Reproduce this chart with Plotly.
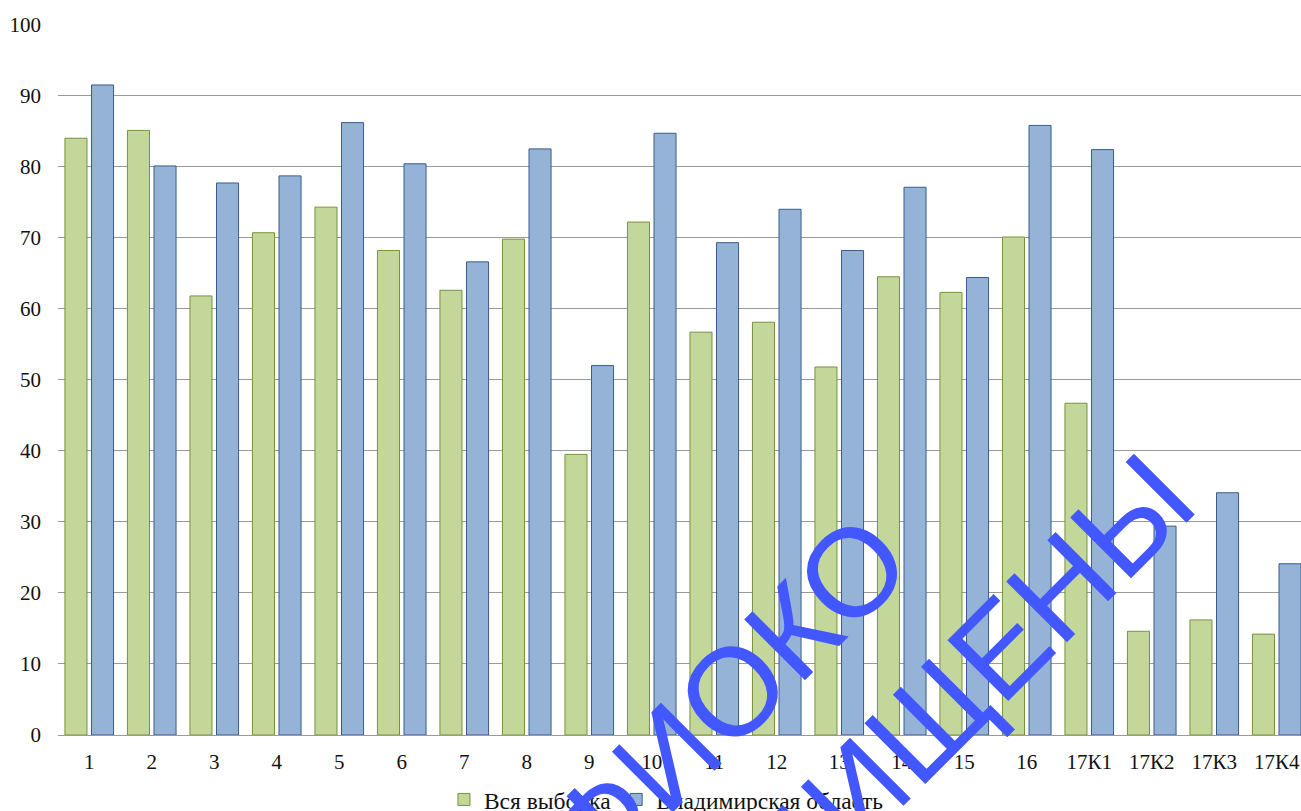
import plotly.graph_objects as go

categories = ["1", "2", "3", "4", "5", "6", "7", "8", "9", "10", "11", "12", "13", "14", "15", "16",
              "17К1", "17К2", "17К3", "17К4"]
all_sample = [84.0, 85.1, 61.8, 70.7, 74.3, 68.2, 62.6, 69.8, 39.5, 72.2, 56.7, 58.1, 51.8, 64.5,
              62.3, 70.1, 46.7, 14.6, 16.2, 14.2]
vladimir = [91.5, 80.1, 77.7, 78.7, 86.2, 80.4, 66.6, 82.5, 52.0, 84.7, 69.3, 74.0, 68.2, 77.1,
            64.4, 85.8, 82.4, 29.4, 34.1, 24.1]
series_names = ["Вся выборка", "Владимирская область"]
y_ticks = [0, 10, 20, 30, 40, 50, 60, 70, 80, 90, 100]
watermark_lines = ["ФИОКО", "ЗАЩИЩЕНЫ"]

W, H = 1301, 811
ML, MR, MT, MB = 58, 0, 24, 76
PW, PH = W - ML - MR, H - MT - MB
Y_TOP = 100.08


def px_to_paper(px, py):
    return (px - ML) / PW, (H - MB - py) / PH


serif = "Liberation Serif, Times New Roman, serif"

fig = go.Figure()
fig.add_trace(go.Bar(
    x=categories, y=all_sample, name=series_names[0],
    marker=dict(color="#C4D79B", line=dict(color="#76923C", width=1)),
))
fig.add_trace(go.Bar(
    x=categories, y=vladimir, name=series_names[1],
    marker=dict(color="#95B3D7", line=dict(color="#385D8A", width=1)),
))

# watermark (rotated text)
wm_centers = [(727, 696), (899, 748)]
for txt, (cx, cy) in zip(watermark_lines, wm_centers):
    ax, ay = px_to_paper(cx, cy)
    fig.add_annotation(
        text=txt, x=ax, y=ay, xref="paper", yref="paper",
        xanchor="center", yanchor="middle", showarrow=False, textangle=-45,
        font=dict(family="Liberation Sans, Arial, sans-serif", size=125, color="#4257FF"),
    )

fig.update_layout(
    width=W, height=H,
    margin=dict(l=ML, r=MR, t=MT, b=MB, autoexpand=False),
    plot_bgcolor="white", paper_bgcolor="white",
    barmode="group", bargap=0.15, bargroupgap=0.17,
    font=dict(family=serif, size=21, color="#111111"),
    legend=dict(orientation="h", x=0.4895, xanchor="center", y=-0.06, yanchor="top",
                font=dict(family=serif, size=23.5, color="#111111")),
    showlegend=True,
)
fig.update_xaxes(
    type="category", range=[-0.5, -0.5 + PW / 62.5],
    showline=False, showgrid=False, ticks="", ticklabelstandoff=12,
    tickfont=dict(family=serif, size=21, color="#111111"),
)
fig.update_yaxes(
    range=[0, Y_TOP], tickvals=y_ticks, showgrid=True, gridcolor="#9A9A9A", gridwidth=1,
    zeroline=True, zerolinecolor="#9A9A9A", zerolinewidth=1, showline=False, ticks="",
    ticklabelstandoff=16, tickfont=dict(family=serif, size=21, color="#111111"),
)

fig.write_html(
    "out.html",
    config={"displayModeBar": False},
    post_script="document.body.style.margin='0';document.body.style.overflow='hidden';",
)
